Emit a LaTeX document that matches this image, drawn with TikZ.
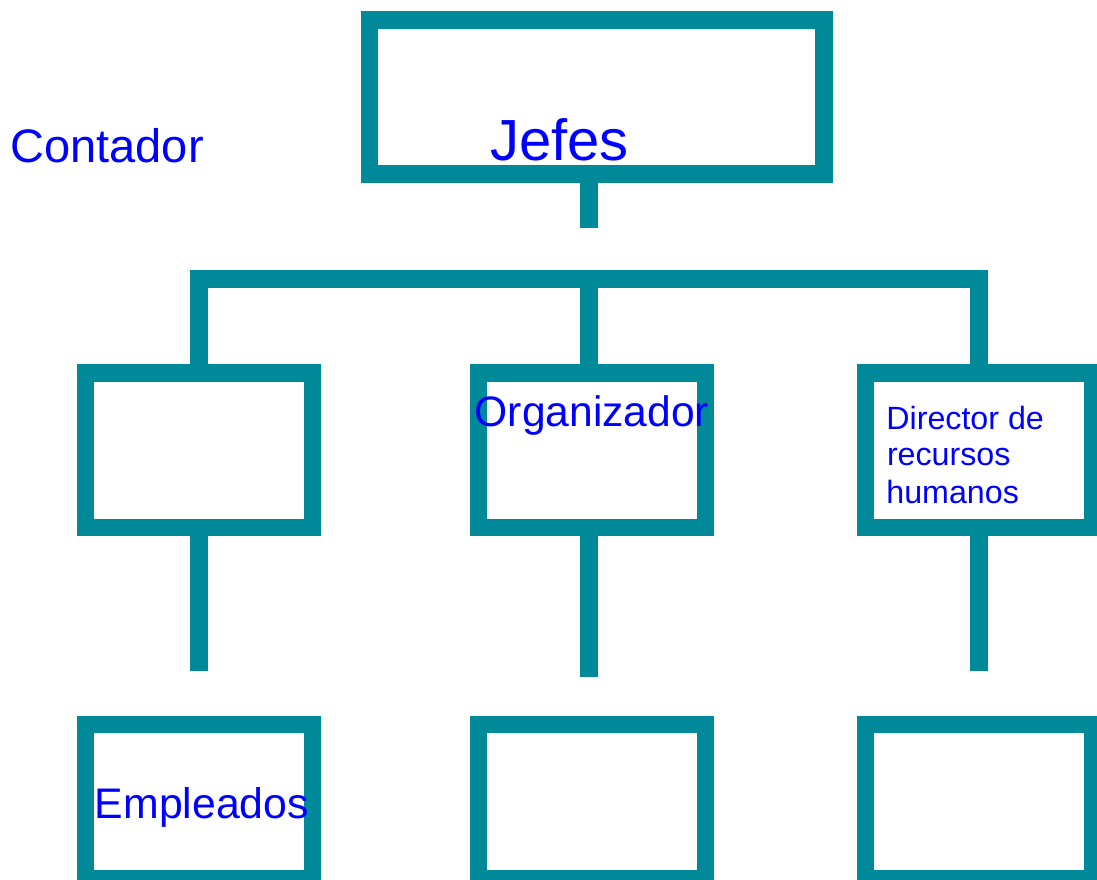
\documentclass[tikz,border=0pt]{standalone}
\usepackage{fontspec}
\setmainfont{Liberation Sans}
\definecolor{tealbox}{RGB}{0,138,153}
\definecolor{txtblue}{RGB}{0,0,255}
\tikzset{
  orgbox/.style={draw=tealbox, line width=17.5pt, fill=white, inner sep=0pt, outer sep=0pt, rectangle},
  conn/.style={draw=tealbox, line width=17.5pt, line cap=butt, line join=miter},
  lbl/.style={text=txtblue, inner sep=0pt, outer sep=0pt, anchor=base west},
}
\begin{document}
\begin{tikzpicture}[x=1pt,y=-1pt]
\useasboundingbox (0,0) rectangle (1097,879);
\clip (0,0) rectangle (1097,879);
\fill[white] (0,0) rectangle (1097,879);
% boxes
\node[orgbox, minimum width=454.5pt, minimum height=154pt] (jefes) at (596.75,97) {};
\node[orgbox, minimum width=227.2pt, minimum height=154.7pt] (l2) at (198.9,450.35) {};
\node[orgbox, minimum width=227.2pt, minimum height=154.7pt] (m2) at (592,450.35) {};
\node[orgbox, minimum width=227.2pt, minimum height=154.7pt] (r2) at (978.9,450.35) {};
\node[orgbox, minimum width=227.2pt, minimum height=154.7pt] (l3) at (198.9,801.65) {};
\node[orgbox, minimum width=227.2pt, minimum height=154.7pt] (m3) at (592,801.65) {};
\node[orgbox, minimum width=227.2pt, minimum height=154.7pt] (r3) at (978.9,801.65) {};
% connectors
\coordinate (jstub) at (589,227.7);
\coordinate (barM) at (589,279);
\coordinate (eL) at (198.9,671.3);
\coordinate (eM) at (589,677);
\coordinate (eR) at (978.9,671.3);
\draw[conn] (jefes.south -| jstub) -- (jstub);
\draw[conn] (l2.north) -- (l2.north |- barM) -- (r2.north |- barM) -- (r2.north);
\draw[conn] (barM) -- (barM |- m2.north);
\draw[conn] (l2.south) -- (eL);
\draw[conn] (eM |- m2.south) -- (eM);
\draw[conn] (r2.south) -- (eR);
% labels
\node[lbl, font=\fontsize{47}{54}\selectfont] (tcont) at (10.4,162.5) {Contador};
\node[lbl, font=\fontsize{58}{66}\selectfont] (tjefes) at (490,160) {Jefes};
\node[lbl, font=\fontsize{42.6}{49}\selectfont] (torg) at (474.7,426) {Organizador};
\node[lbl, font=\fontsize{42.8}{49}\selectfont] (temp) at (94.8,818) {Empleados};
\node[lbl, font=\fontsize{32.2}{37}\selectfont] (tdir1) at (886.4,429) {Director de};
\node[lbl, font=\fontsize{32.2}{37}\selectfont] (tdir2) at (887,465.7) {recursos};
\node[lbl, font=\fontsize{32.2}{37}\selectfont] (tdir3) at (886.4,503) {humanos};
\end{tikzpicture}
\end{document}
